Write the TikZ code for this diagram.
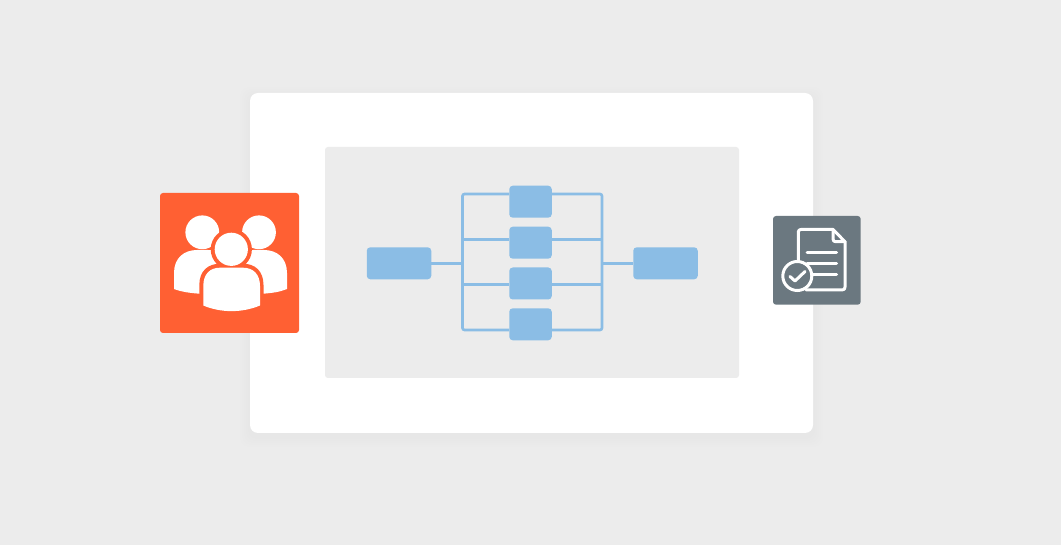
\documentclass[tikz,border=0pt]{standalone}
\definecolor{bg}{HTML}{ECECEC}
\definecolor{inner}{HTML}{ECECEC}
\definecolor{blue1}{HTML}{8BBDE5}
\definecolor{orange1}{HTML}{FF6033}
\definecolor{slate}{HTML}{6B7880}
\tikzset{
  flowbox/.style={fill=blue1,draw=none,inner sep=0pt,rounded corners=3.5pt},
  widebox/.style={flowbox,minimum width=64.5pt,minimum height=32pt},
  midbox/.style={flowbox,minimum width=42.5pt,minimum height=32pt},
  wire/.style={draw=blue1,line width=2.6pt,rounded corners=2pt},
  icontile/.style={inner sep=0pt,rounded corners=3pt},
  iconline/.style={draw=white,line width=3pt,line cap=round,line join=round},
}
\begin{document}
\begin{tikzpicture}[x=1pt,y=-1pt]
\useasboundingbox (0,0) rectangle (1061,545);
\fill[bg] (0,0) rectangle (1061,545);
% panel soft shadow
\foreach \g in {10,8,6,4,2}{
  \fill[black,opacity=0.005,rounded corners=9pt] (250-\g,97-\g) rectangle (813+\g,437+\g);
}
\node[fill=white,inner sep=0pt,rounded corners=8pt,minimum width=563pt,minimum height=340pt] (panel) at (531.5,263) {};
\node[fill=inner,inner sep=0pt,rounded corners=3pt,minimum width=414pt,minimum height=231pt] (work) at (532,262.5) {};
% flow boxes
\node[widebox] (src) at (399,263.3) {};
\node[widebox] (dst) at (665.5,263.3) {};
\node[midbox] (m1) at (530.5,201.7) {};
\node[midbox] (m2) at (530.5,242.7) {};
\node[midbox] (m3) at (530.5,283.5) {};
\node[midbox] (m4) at (530.5,324.3) {};
% buses
\coordinate (lbus) at (462.5,263.3);
\coordinate (rbus) at (602,263.3);
\draw[wire] (src.east) -- (lbus);
\draw[wire] (rbus) -- (dst.west);
\draw[wire] (m1.west |- 0,194) -- (462.5,194) -- (462.5,330) -- (m4.west |- 0,330);
\draw[wire] (m1.east |- 0,194) -- (602,194) -- (602,330) -- (m4.east |- 0,330);
\draw[wire,rounded corners=0pt] (462.5,239.7) -- (m2.west |- 0,239.7);
\draw[wire,rounded corners=0pt] (m2.east |- 0,239.7) -- (602,239.7);
\draw[wire,rounded corners=0pt] (462.5,284.8) -- (m3.west |- 0,284.8);
\draw[wire,rounded corners=0pt] (m3.east |- 0,284.8) -- (602,284.8);
% people tile
\node[icontile,fill=orange1,minimum width=139pt,minimum height=140pt] (people) at (229.5,263) {};
\fill[white] (202.3,232.3) circle (16.9);
\fill[white] (259,232.3) circle (16.9);
\fill[white] (174,289) -- (174,273) .. controls (174,258) and (184,250) .. (197,250) -- (208,250) .. controls (220,250) and (225,258) .. (225,270) -- (225,298) -- (199.3,293.7) .. controls (190,293) and (182,292) .. (174,289) -- cycle;
\fill[white] (287,289) -- (287,273) .. controls (287,258) and (277,250) .. (264,250) -- (253,250) .. controls (241,250) and (236,258) .. (236,270) -- (236,298) -- (263.3,293.7) .. controls (272,293) and (280,292) .. (287,289) -- cycle;
\fill[orange1] (231.3,249.3) circle (20.6);
\fill[orange1] (199.3,318) -- (199.3,285) .. controls (199.3,271) and (208,263.7) .. (220,263.7) -- (243,263.7) .. controls (255,263.7) and (263.5,271) .. (263.5,285) -- (263.5,318) -- cycle;
\fill[white] (231.3,249.3) circle (16.6);
\fill[white] (203.3,305.5) -- (203.3,286) .. controls (203.3,274) and (210,267.7) .. (220,267.7) -- (243,267.7) .. controls (253,267.7) and (260,274) .. (260,286) -- (260,305.5) .. controls (242,313) and (221,313) .. (203.3,305.5) -- cycle;
% document tile
\node[icontile,fill=slate,minimum width=87.7pt,minimum height=88.7pt] (doc) at (816.85,260.35) {};
\draw[iconline] (798.3,262) -- (798.3,232) .. controls (798.3,230.3) and (799.5,229.5) .. (801,229.5) -- (833,229.5) -- (845,241.7) -- (845,287) .. controls (845,289) and (844,290) .. (842,290) -- (806,290);
\draw[iconline] (833,229.5) -- (833,239) .. controls (833,241) and (834,241.7) .. (836,241.7) -- (845,241.7);
\draw[iconline] (807,252.3) -- (836.5,252.3);
\draw[iconline] (807,263.3) -- (836.5,263.3);
\draw[iconline] (812,274.5) -- (836.5,274.5);
\filldraw[fill=slate,draw=white,line width=3pt] (797.3,276) circle (14.5);
\draw[iconline] (790,276.5) -- (795,281) -- (805,271.5);
\end{tikzpicture}
\end{document}
